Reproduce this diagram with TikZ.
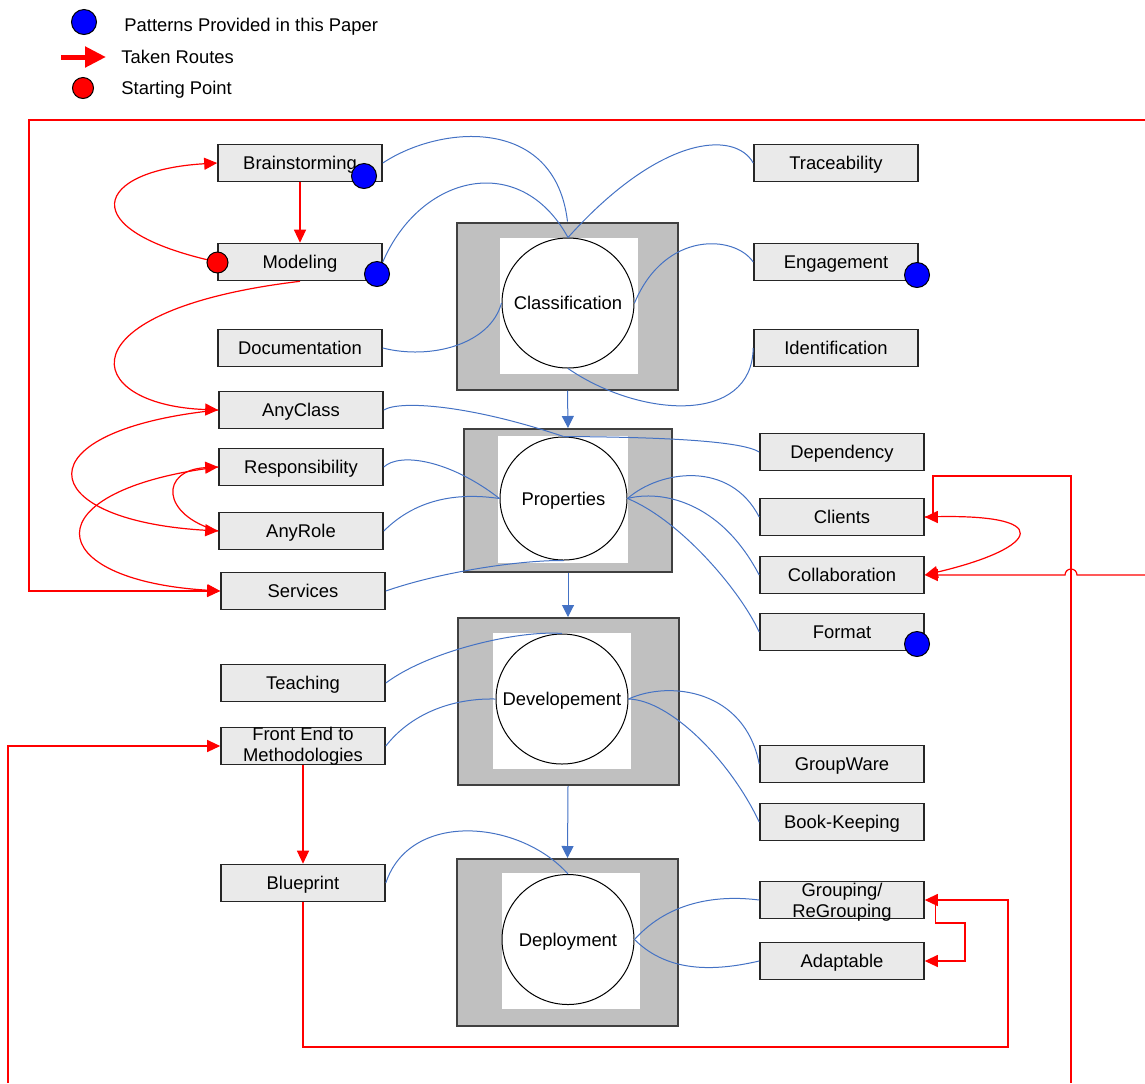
\documentclass[tikz,border=0pt]{standalone}
\usepackage{fontspec}
\setmainfont{Liberation Sans}
\usetikzlibrary{shapes.geometric,arrows.meta}
\definecolor{linkblue}{RGB}{68,114,196}
\definecolor{boxgray}{RGB}{234,234,234}
\definecolor{blkgray}{RGB}{192,192,192}
\definecolor{edgegray}{RGB}{64,64,64}
\newcommand{\lblfont}{\fontsize{9.2}{10.6}\selectfont}
\tikzstyle{topic} = [rectangle, draw=black!85, line width=.8pt, fill=boxgray, minimum width=82pt, minimum height=18.5pt, inner sep=0pt, text height=6.6pt, text depth=0pt, font=\lblfont]
\tikzstyle{twoline} = [align=center, inner sep=0pt, font=\lblfont]
\tikzstyle{stagelbl} = [inner sep=0pt, text height=6.6pt, text depth=0pt, font=\lblfont]
\tikzstyle{stageblk} = [rectangle, draw=edgegray, line width=1pt, fill=blkgray, minimum width=110.5pt, minimum height=83.5pt]
\tikzstyle{stagein} = [rectangle, fill=white, minimum width=69pt, minimum height=68pt, inner sep=0pt]
\tikzstyle{stagecirc} = [ellipse, draw=black, line width=.5pt, fill=white, minimum width=66pt, minimum height=65pt, inner sep=0pt]
\tikzstyle{link} = [draw=linkblue, line width=.5pt]
\tikzstyle{flow} = [link, -{Triangle[length=6pt,width=6pt]}]
\tikzstyle{route} = [draw=red, line width=.6pt]
\tikzstyle{routeto} = [route, -{Triangle[length=6.5pt,width=6pt]}]
\tikzstyle{patdot} = [circle, draw=black, line width=.5pt, fill=blue, minimum size=12.5pt, inner sep=0pt]
\tikzstyle{startdot} = [circle, draw=black, line width=.5pt, fill=red, minimum size=10.5pt, inner sep=0pt]
\tikzstyle{legtext} = [anchor=west, inner sep=0pt, text height=6.6pt, text depth=0pt, font=\lblfont]

\begin{document}
\begin{tikzpicture}[x=.5pt, y=-.5pt]%
	\useasboundingbox (0,0) rectangle (1145,1083);%
	% legend
	\node [patdot] (legpat) at (84,22) {};%
	\node [legtext] (legpattxt) at (124,25) {Patterns Provided in this Paper};%
	\coordinate (legarrA) at (61,57);%
	\coordinate (legarrB) at (106,57);%
	\draw [red, line width=2.5pt, -{Triangle[length=10.5pt,width=10pt]}] (legarrA) -- (legarrB);%
	\node [legtext] (legroutetxt) at (121,57) {Taken Routes};%
	\node [startdot] (legstart) at (83,88) {};%
	\node [legtext] (legstarttxt) at (121,88) {Starting Point};%
	% phases
	\node [stageblk] (classblk) at (567.5,306) {};%
	\node [stagein] (classin) at (569,306) {};%
	\node [stagecirc, label={[stagelbl]center:Classification}] (classification) at (568,303) {};%
	\node [stageblk, minimum width=104pt, minimum height=71.5pt] (propblk) at (568,500.5) {};%
	\node [stagein, minimum width=65pt, minimum height=63.5pt] (propin) at (563,499.5) {};%
	\node [stagecirc, minimum width=63.5pt, minimum height=61.5pt, label={[stagelbl]center:Properties}] (properties) at (563.5,498.5) {};%
	\node [stageblk] (devblk) at (568,701.5) {};%
	\node [stagein] (devin) at (561.5,701) {};%
	\node [stagecirc, label={[stagelbl]center:Developement}] (developement) at (562,699) {};%
	\node [stageblk] (depblk) at (567.5,942.5) {};%
	\node [stagein] (depin) at (571,941) {};%
	\node [stagecirc, label={[stagelbl]center:Deployment}] (deployment) at (568,939.5) {};%
	\draw [flow] (classblk.south) -- (propblk.north);%
	\draw [flow] (propblk.south) -- (devblk.north);%
	\draw [flow] (devblk.south) -- (depblk.north);%
	% topics
	\node [topic] (brain) at (300,163) {Brainstorming};%
	\node [topic] (model) at (300,262) {Modeling};%
	\node [topic] (docu) at (300,348) {Documentation};%
	\node [topic] (anycls) at (301,410) {AnyClass};%
	\node [topic] (resp) at (301,467) {Responsibility};%
	\node [topic] (anyrole) at (301,531) {AnyRole};%
	\node [topic] (serv) at (303,591) {Services};%
	\node [topic] (teach) at (303,683) {Teaching};%
	\node [topic, label={[twoline]center:{Front End to\\Methodologies}}] (front) at (303,746) {};%
	\node [topic] (blueprint) at (303,883) {Blueprint};%
	\node [topic] (trace) at (836,163) {Traceability};%
	\node [topic] (engage) at (836,262) {Engagement};%
	\node [topic] (ident) at (836,348) {Identification};%
	\node [topic] (depend) at (842,452) {Dependency};%
	\node [topic] (clients) at (842,517) {Clients};%
	\node [topic] (collab) at (842,575) {Collaboration};%
	\node [topic] (format) at (842,632) {Format};%
	\node [topic] (groupw) at (842,764) {GroupWare};%
	\node [topic] (bookk) at (842,822) {Book-Keeping};%
	\node [topic, label={[twoline, yshift=-1pt]center:{Grouping/\\ReGrouping}}] (regroup) at (842,900) {};%
	\node [topic] (adapt) at (842,961) {Adaptable};%
	% pattern links
	\draw [link] (brain.east) .. controls (440,125) and (555,115) .. (classblk.north);%
	\draw [link] (model.east) .. controls (420,175) and (520,150) .. (classification.north);%
	\draw [link] (trace.west) .. controls (735,130) and (660,135) .. (classification.north);%
	\draw [link] (docu.east) .. controls (430,360) and (490,345) .. (classification.west);%
	\draw [link] (engage.west) .. controls (735,235) and (665,230) .. (classification.east);%
	\draw [link] (ident.west) .. controls (752,425) and (640,418) .. (classification.south);%
	\draw [link] (anycls.east) .. controls (400,400) and (470,405) .. (properties.north);%
	\draw [link] (properties.north) .. controls (650,437) and (740,440) .. (depend.west);%
	\draw [link] (resp.east) .. controls (400,452) and (450,460) .. (properties.west);%
	\draw [link] (anyrole.east) .. controls (415,500) and (455,492) .. (properties.west);%
	\draw [link] (serv.east) .. controls (440,572) and (520,560) .. (properties.south);%
	\draw [link] (properties.east) .. controls (660,470) and (730,460) .. (clients.west);%
	\draw [link] (properties.east) .. controls (660,490) and (720,500) .. (collab.west);%
	\draw [link] (properties.east) .. controls (680,520) and (740,590) .. (format.west);%
	\draw [link] (teach.east) .. controls (430,650) and (520,630) .. (developement.north);%
	\draw [link] (front.east) .. controls (410,715) and (450,698) .. (developement.west);%
	\draw [link] (developement.east) .. controls (670,680) and (745,690) .. (groupw.west);%
	\draw [link] (developement.east) .. controls (670,700) and (730,760) .. (bookk.west);%
	\draw [link] (blueprint.east) .. controls (410,810) and (520,820) .. (deployment.north);%
	\draw [link] (deployment.east) .. controls (670,900) and (720,895) .. (regroup.west);%
	\draw [link] (deployment.east) .. controls (670,975) and (720,970) .. (adapt.west);%
	% taken routes
	\draw [routeto] (model.west) .. controls (70,230) and (95,170) .. (brain.west);%
	\draw [routeto] (brain.south) -- (model.north);%
	\draw [routeto] (model.south) .. controls (60,310) and (80,405) .. (anycls.west);%
	\draw [routeto] (anycls.west) .. controls (20,430) and (30,520) .. (anyrole.west);%
	\draw [routeto] (anyrole.west) .. controls (160,515) and (160,470) .. (resp.west);%
	\draw [routeto] (resp.west) .. controls (30,490) and (40,580) .. (serv.west);%
	\coordinate (loopin) at (1145,120);%
	\coordinate (loopcorner) at (29,591);%
	\draw [routeto] (loopin) -| (loopcorner) -- (serv.west);%
	\coordinate (clientsin) at (1071,1083);%
	\coordinate (clientsbend) at (933,476);%
	\draw [routeto] (clientsin) |- (clientsbend) |- (clients.east);%
	\coordinate (collabin) at (1145,575);%
	\coordinate (collabhop) at (1077,575);%
	\draw [routeto] (collabin) -- (collabhop) arc [start angle=0, end angle=180, radius=3pt] -- (collab.east);%
	\draw [routeto] (clients.east) .. controls (1060,512) and (1040,548) .. (collab.east);%
	\coordinate (frontin) at (8,1083);%
	\draw [routeto] (frontin) |- (front.west);%
	\draw [routeto] (front.south) -- (blueprint.north);%
	\coordinate (bpbend) at (1008,1047);%
	\draw [routeto] (blueprint.south) |- (bpbend) |- (regroup.east);%
	\coordinate (adaptbend) at (965,923);%
	\draw [routeto] ([xshift=5.5pt]regroup.east) |- (adaptbend) |- (adapt.east);%
	% patterns and start
	\node [patdot] (brainpat) at (364,176) {};%
	\node [patdot] (modelpat) at (377,274) {};%
	\node [patdot] (engagepat) at (917,275) {};%
	\node [patdot] (formatpat) at (917,644) {};%
	\node [startdot] (modelstart) at (217.5,262.5) {};%
\end{tikzpicture}
\end{document}
